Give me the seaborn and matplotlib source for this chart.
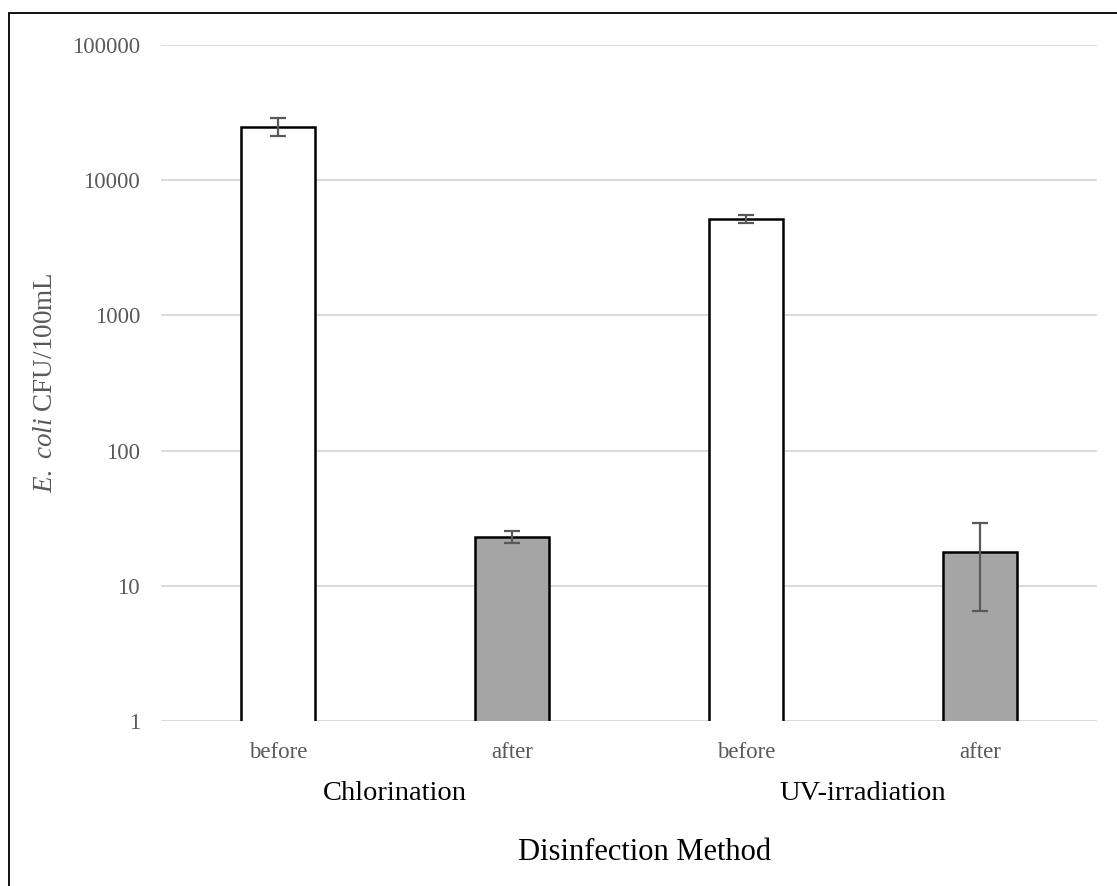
import numpy as np
import pandas as pd
import matplotlib
matplotlib.use("Agg")
import matplotlib.pyplot as plt
import seaborn as sns
from matplotlib.patches import Rectangle

# ---- data ----
methods = ["Chlorination", "Chlorination", "UV-irradiation", "UV-irradiation"]
stages = ["before", "after", "before", "after"]
values = [24700, 23, 5150, 17.8]
err_low = [21200, 20.7, 4830, 6.5]
err_high = [28800, 25.4, 5530, 29.1]
bar_colors = ["#ffffff", "#a5a5a5", "#ffffff", "#a5a5a5"]
yticks = [1, 10, 100, 1000, 10000, 100000]
ytick_labels = ["1", "10", "100", "1000", "10000", "100000"]
group_labels = ["Chlorination", "UV-irradiation"]

sns.set_theme(style="white")
plt.rcParams["font.family"] = ["Liberation Serif", "DejaVu Serif"]
plt.rcParams["mathtext.fontset"] = "custom"
plt.rcParams["mathtext.rm"] = "Liberation Serif"
plt.rcParams["mathtext.it"] = "Liberation Serif:italic"

df = pd.DataFrame({
    "key": [f"{m} {s}" for m, s in zip(methods, stages)],
    "method": methods,
    "stage": stages,
    "value": values,
})

fig = plt.figure(figsize=(11.17, 8.86), dpi=100)
W, H = 1117, 886
ax = fig.add_axes([161 / W, 1 - 721 / H, (1097 - 161) / W, (721 - 45) / H])

sns.barplot(data=df, x="key", y="value", hue="key", palette=bar_colors,
            width=0.316, edgecolor="black", linewidth=1.8, legend=False,
            errorbar=None, ax=ax, zorder=3)

ax.set_yscale("log")
xpos = np.arange(len(values))
yerr = np.array([np.array(values) - np.array(err_low),
                 np.array(err_high) - np.array(values)])
ax.errorbar(xpos, values, yerr=yerr, fmt="none", ecolor="#595959",
            elinewidth=1.6, capsize=6, capthick=1.6, zorder=4)

ax.set_ylim(1, 100000)
ax.set_xlim(-0.5, len(values) - 0.5)
ax.set_yticks(yticks)
ax.set_yticklabels(ytick_labels)
ax.yaxis.set_minor_locator(matplotlib.ticker.NullLocator())
ax.set_xticks(xpos)
ax.set_xticklabels(stages)
ax.tick_params(axis="both", length=0, labelsize=16.5, colors="#595959")
ax.tick_params(axis="y", pad=15)
ax.tick_params(axis="x", pad=15)

ax.grid(axis="y", color="#d9d9d9", linewidth=1.4, zorder=0)
ax.set_axisbelow(True)
for s in ax.spines.values():
    s.set_visible(False)

# group labels
trans = ax.get_xaxis_transform()
for i, g in enumerate(group_labels):
    ax.text(2 * i + 0.5, (721 - 793) / (721 - 45), g, transform=trans,
            ha="center", va="center", fontsize=20.5, color="black")

ax.set_xlabel("Disinfection Method", fontsize=22, color="black")
ax.xaxis.set_label_coords((645 - 161) / (1097 - 161), (721 - 852) / (721 - 45))
ax.xaxis.label.set_va("center")

ax.set_ylabel(r"$\mathit{E.}$ $\mathit{coli}$ CFU/100mL", fontsize=19.5, color="#595959")
ax.yaxis.set_label_coords((46 - 161) / (1097 - 161), 0.5)
ax.yaxis.label.set_va("center")

# figure border
fig.patches.append(Rectangle((9 / W, -0.05), 1.1, 1 - 13 / H + 0.05,
                             transform=fig.transFigure, fill=False,
                             edgecolor="black", linewidth=1.3, zorder=10))

fig.savefig("out.png", dpi=100)
